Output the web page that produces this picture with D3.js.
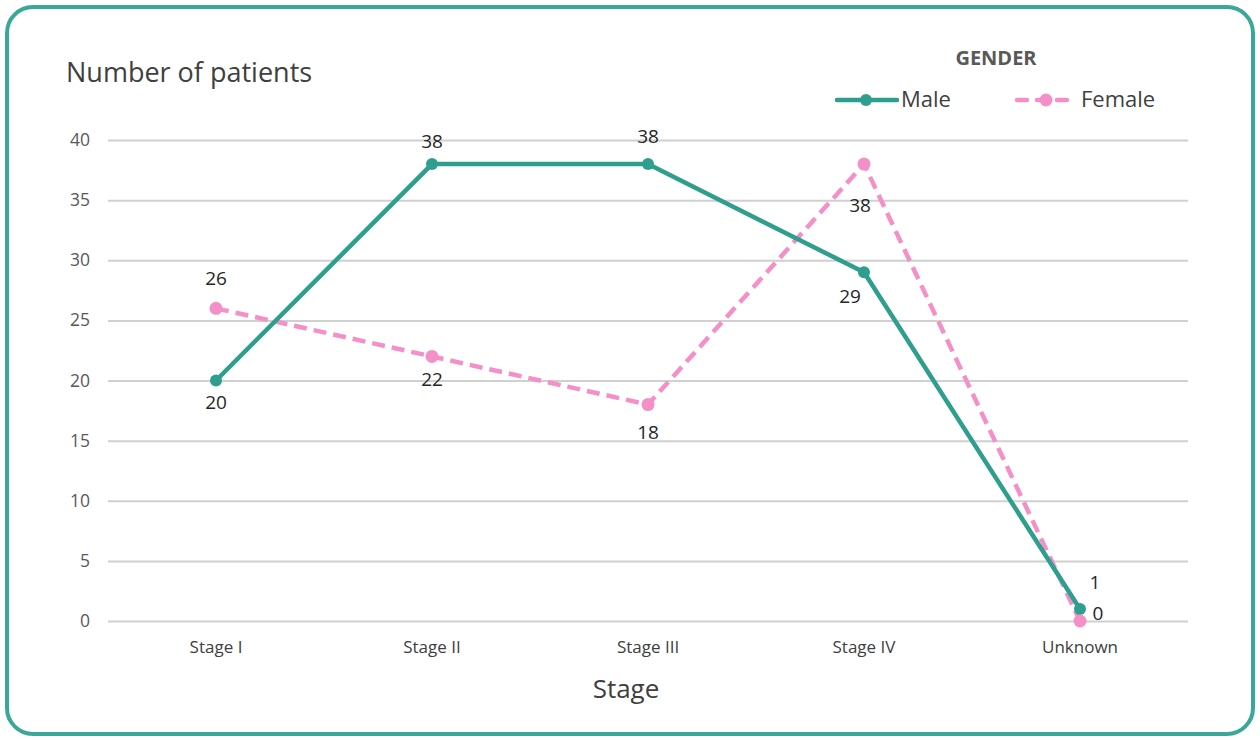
<!DOCTYPE html>
<html><head><meta charset="utf-8">
<script src="https://cdn.jsdelivr.net/npm/d3@7"></script>
<style>body{margin:0;background:#fff;}svg{display:block;}</style>
</head><body>
<svg id="c" width="1260" height="740"></svg>
<script>
const categories = ["Stage I","Stage II","Stage III","Stage IV","Unknown"];
const maleValues = [20,38,38,29,1];
const femaleValues = [26,22,18,38,0];
const yTicks = [0,5,10,15,20,25,30,35,40];
const seriesNames = ["Male","Female"];

const font = "Open Sans, Noto Sans, sans-serif";
const teal = "#2e9e8f", pink = "#f48fc7";
const svg = d3.select("#c");
svg.append("rect").attr("x",7).attr("y",7).attr("width",1246).attr("height",727)
  .attr("rx",26).attr("fill","#fff").attr("stroke","#3aa898").attr("stroke-width",4);

const x = d3.scaleBand().domain(categories).range([108,1188]);
const y = d3.scaleLinear().domain([0,40]).range([621,140]);
const cx = d => x(d)+x.bandwidth()/2;

const yAxis = d3.axisLeft(y).tickValues(yTicks).tickSize(-1080).tickPadding(18);
const gy = svg.append("g").attr("transform","translate(108,0)").call(yAxis);
gy.select(".domain").remove();
gy.selectAll(".tick line").attr("stroke","#d0d0d0").attr("stroke-width",2);
gy.selectAll(".tick text").attr("font-family",font).attr("font-size",17.5).attr("fill","#595959");

const xAxis = d3.axisBottom(x).tickSize(0).tickPadding(20);
const gx = svg.append("g").attr("transform","translate(0,621)").call(xAxis);
gx.select(".domain").remove();
gx.selectAll(".tick text").attr("font-family",font).attr("font-size",17).attr("fill","#404040");

svg.append("text").attr("x",66).attr("y",82).attr("font-family",font).attr("font-size",27)
  .attr("fill","#404040").text("Number of patients");
svg.append("text").attr("x",626).attr("y",698).attr("text-anchor","middle").attr("font-family",font)
  .attr("font-size",26).attr("fill","#404040").text("Stage");

const line = d3.line().x((d,i)=>cx(categories[i])).y(d=>y(d));
svg.append("path").datum(femaleValues).attr("d",line).attr("fill","none").attr("stroke",pink)
  .attr("stroke-width",4.5).attr("stroke-dasharray","13,7").attr("stroke-linejoin","round");
svg.append("path").datum(maleValues).attr("d",line).attr("fill","none").attr("stroke",teal)
  .attr("stroke-width",4.5).attr("stroke-linejoin","round");
svg.selectAll(".mm").data(maleValues).join("circle").attr("cx",(d,i)=>cx(categories[i])).attr("cy",d=>y(d)).attr("r",6).attr("fill",teal);
svg.selectAll(".fm").data(femaleValues).join("circle").attr("cx",(d,i)=>cx(categories[i])).attr("cy",d=>y(d)).attr("r",6.5).attr("fill",pink);

const maleOff = [[0,23],[0,-21],[0,-26],[-14,26],[15,-25]];
const femaleOff = [[0,-28],[0,24],[0,29],[-4,43],[18,-6]];
function labels(vals, offs){
  svg.append("g").selectAll("text").data(vals).join("text")
    .attr("x",(d,i)=>cx(categories[i])+offs[i][0]).attr("y",(d,i)=>y(d)+offs[i][1])
    .attr("text-anchor","middle").attr("dominant-baseline","middle")
    .attr("font-family",font).attr("font-size",19).attr("fill","#262626").text(d=>d);
}
labels(maleValues, maleOff);
labels(femaleValues, femaleOff);

svg.append("text").attr("x",996).attr("y",65).attr("text-anchor","middle").attr("font-family",font)
  .attr("font-size",20).attr("font-weight","bold").attr("fill","#595959").text("GENDER");
const lg = svg.append("g");
lg.append("line").attr("x1",837).attr("x2",897).attr("y1",100).attr("y2",100).attr("stroke",teal).attr("stroke-width",4.5).attr("stroke-linecap","round");
lg.append("circle").attr("cx",866).attr("cy",100).attr("r",6).attr("fill",teal);
lg.append("text").attr("x",901).attr("y",101).attr("dominant-baseline","middle").attr("font-family",font).attr("font-size",22).attr("fill","#404040").text(seriesNames[0]);
lg.append("line").attr("x1",1017).attr("x2",1075).attr("y1",100).attr("y2",100).attr("stroke",pink).attr("stroke-width",4.5).attr("stroke-dasharray","10,10").attr("stroke-linecap","round");
lg.append("circle").attr("cx",1046).attr("cy",100).attr("r",6.5).attr("fill",pink);
lg.append("text").attr("x",1081).attr("y",101).attr("dominant-baseline","middle").attr("font-family",font).attr("font-size",22).attr("fill","#404040").text(seriesNames[1]);
</script>
</body></html>
